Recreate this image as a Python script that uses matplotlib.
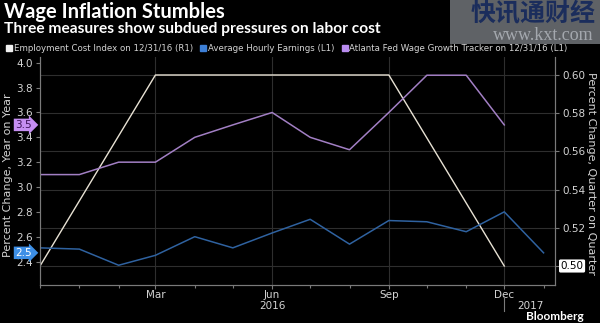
import matplotlib
matplotlib.use("Agg")
import matplotlib.pyplot as plt
import matplotlib.dates as mdates
import matplotlib.transforms as mtransforms
from matplotlib.lines import Line2D
from matplotlib.patches import Rectangle
import pandas as pd

plt.rcParams['font.family'] = ['DejaVu Sans']

# monthly series, Dec 2015 .. Jan 2017
months = ["2015-12", "2016-01", "2016-02", "2016-03", "2016-04", "2016-05", "2016-06",
          "2016-07", "2016-08", "2016-09", "2016-10", "2016-11", "2016-12", "2017-01"]
ahe = [2.51, 2.50, 2.37, 2.45, 2.60, 2.51, 2.63, 2.74, 2.54, 2.73, 2.72, 2.64, 2.80, 2.47]
atlanta = [3.1, 3.1, 3.2, 3.2, 3.4, 3.5, 3.6, 3.4, 3.3, 3.6, 3.9, 3.9, 3.5]

# quarterly ECI
eci_quarters = ["2015-12", "2016-03", "2016-06", "2016-09", "2016-12"]
eci = [0.5, 0.6, 0.6, 0.6, 0.5]

tick_months = ["2016-03", "2016-06", "2016-09", "2016-12"]
left_ticks = [2.4, 2.6, 2.8, 3.0, 3.2, 3.4, 3.6, 3.8, 4.0]
right_ticks = [0.50, 0.52, 0.54, 0.56, 0.58, 0.60]

labels = ["Employment Cost Index on 12/31/16 (R1)",
          "Average Hourly Earnings (L1)",
          "Atlanta Fed Wage Growth Tracker on 12/31/16 (L1)"]

bg = "#000000"
c_eci = "#e8e2d4"
c_ahe = "#2f62a0"
c_atl = "#a27fc4"
grid_c = "#2e2e2e"
spine_c = "#7a7a7a"
txt_c = "#d4d4d4"

x_m = pd.to_datetime(months)
x_q = pd.to_datetime(eci_quarters)

fig = plt.figure(figsize=(6, 3.23), dpi=100)
fig.patch.set_facecolor(bg)

# right axis (ECI) holds grid, left twin holds monthly lines
ax = fig.add_axes([40/600, 38/323, 515/600, 228/323])
ax.set_facecolor(bg)
axl = ax.twinx()
ax.yaxis.tick_right()
ax.yaxis.set_label_position("right")
axl.yaxis.tick_left()
axl.yaxis.set_label_position("left")

ax.plot(x_q, eci, color=c_eci, lw=1.0)
axl.plot(x_m, ahe, color=c_ahe, lw=1.1)
axl.plot(x_m[:len(atlanta)], atlanta, color=c_atl, lw=1.1)

ax.set_xlim(pd.Timestamp("2015-12-01"), pd.Timestamp("2017-01-10"))
ax.set_ylim(0.49005, 0.60942)
axl.set_ylim(2.211, 4.0467)

ax.set_yticks(right_ticks)
ax.set_yticklabels([""] + [f"{v:.2f}" for v in right_ticks[1:]])
axl.set_yticks(left_ticks)
axl.set_yticklabels([f"{v:.1f}" for v in left_ticks])

ax.set_xticks(pd.to_datetime(tick_months))
ax.xaxis.set_major_formatter(mdates.DateFormatter("%b"))
ax.xaxis.set_minor_locator(mdates.MonthLocator())

ax.grid(True, which="major", color=grid_c, lw=0.8)
ax.set_axisbelow(True)

for a in (ax, axl):
    a.spines["top"].set_visible(False)
    for s in ("left", "right", "bottom"):
        a.spines[s].set_color(spine_c)
        a.spines[s].set_linewidth(0.8)
    a.tick_params(which="both", colors=spine_c, labelcolor=txt_c, labelsize=7.5,
                  length=3, width=0.8, pad=2)
    a.tick_params(which="minor", length=2)
ax.tick_params(axis="x", which="both", pad=0.5)

ax.set_ylabel("Percent Change, Quarter on Quarter", color=txt_c, fontsize=8,
              rotation=270, va="center")
ax.yaxis.set_label_coords(1.07, 0.49)
axl.set_ylabel("Percent Change, Year on Year", color=txt_c, fontsize=8, va="center")
axl.yaxis.set_label_coords(-0.062, 0.48)

# year labels under the month ticks
blend = mtransforms.blended_transform_factory(ax.transData, ax.transAxes)
ax.text(pd.Timestamp("2016-06-01"), -0.094, "2016", transform=blend, ha="center",
        va="center", color=txt_c, fontsize=7.5)
ax.text(pd.Timestamp("2016-12-22"), -0.09, "2017", transform=blend, ha="center",
        va="center", color=txt_c, fontsize=7.5)
ax.plot([pd.Timestamp("2016-12-01")] * 2, [-0.05, -0.115], transform=blend,
        color=spine_c, lw=0.8, clip_on=False)

# last value tags
axl.annotate(f"{atlanta[-1]:.1f}", xy=(0, atlanta[-1]), xycoords=("axes fraction", "data"),
             xytext=(-6, 0), textcoords="offset points", ha="right", va="center",
             fontsize=7.5, color="#3c1258",
             bbox=dict(boxstyle="rarrow,pad=0.12", fc="#c58ef2", ec="none"))
axl.annotate(f"{ahe[-1]:.1f}", xy=(0, ahe[-1]), xycoords=("axes fraction", "data"),
             xytext=(-6, 0), textcoords="offset points", ha="right", va="center",
             fontsize=7.5, color="white",
             bbox=dict(boxstyle="rarrow,pad=0.12", fc="#3d8fe6", ec="none"))
ax.annotate(f"{eci[-1]:.2f}", xy=(1, eci[-1]), xycoords=("axes fraction", "data"),
            xytext=(4, 0), textcoords="offset points", ha="left", va="center",
            fontsize=7.5, color="black",
            bbox=dict(boxstyle="round,pad=0.15", fc="white", ec="none"))

# legend
handles = [Line2D([], [], marker="s", ls="none", color=c, markersize=4.5)
           for c in ("#f0f0f0", "#3d7fd6", "#b98cf0")]
fig.legend(handles, labels, loc="center left", bbox_to_anchor=(0.004, 0.851), ncol=3,
           frameon=False, fontsize=6.2, labelcolor=txt_c, handletextpad=0.1,
           columnspacing=0.85, handlelength=0.8, borderaxespad=0)

# titles
fig.text(0.006, 1 - 12/323, "Wage Inflation Stumbles", color="white", fontsize=14.5,
         fontweight="bold", family="Lato", va="center")
fig.text(0.006, 1 - 29/323, "Three measures show subdued pressures on labor cost",
         color="white", fontsize=11.2, fontweight="bold", family="Lato", va="center")
fig.text(0.972, 1 - 316/323, "Bloomberg", color="white", fontsize=8.5,
         fontweight="bold", family="Lato", ha="right", va="center")

# watermark overlay
fig.patches.append(Rectangle((450/600, 1 - 44/323), 150/600, 44/323, transform=fig.transFigure,
                             facecolor="#5f6266", edgecolor="none", zorder=5))
fig.text(0.992, 1 - 14/323, "快讯通财经", color="#1b2d5c", fontsize=18, fontweight="bold",
         family=["Noto Sans CJK SC", "DejaVu Sans"], ha="right", va="center", zorder=6)
fig.text(0.99, 1 - 35/323, "www.kxt.com", color="#a4a8ae", fontsize=13,
         family="Liberation Serif", ha="right", va="center", zorder=6)

fig.savefig("out.png", dpi=100, facecolor=bg)
